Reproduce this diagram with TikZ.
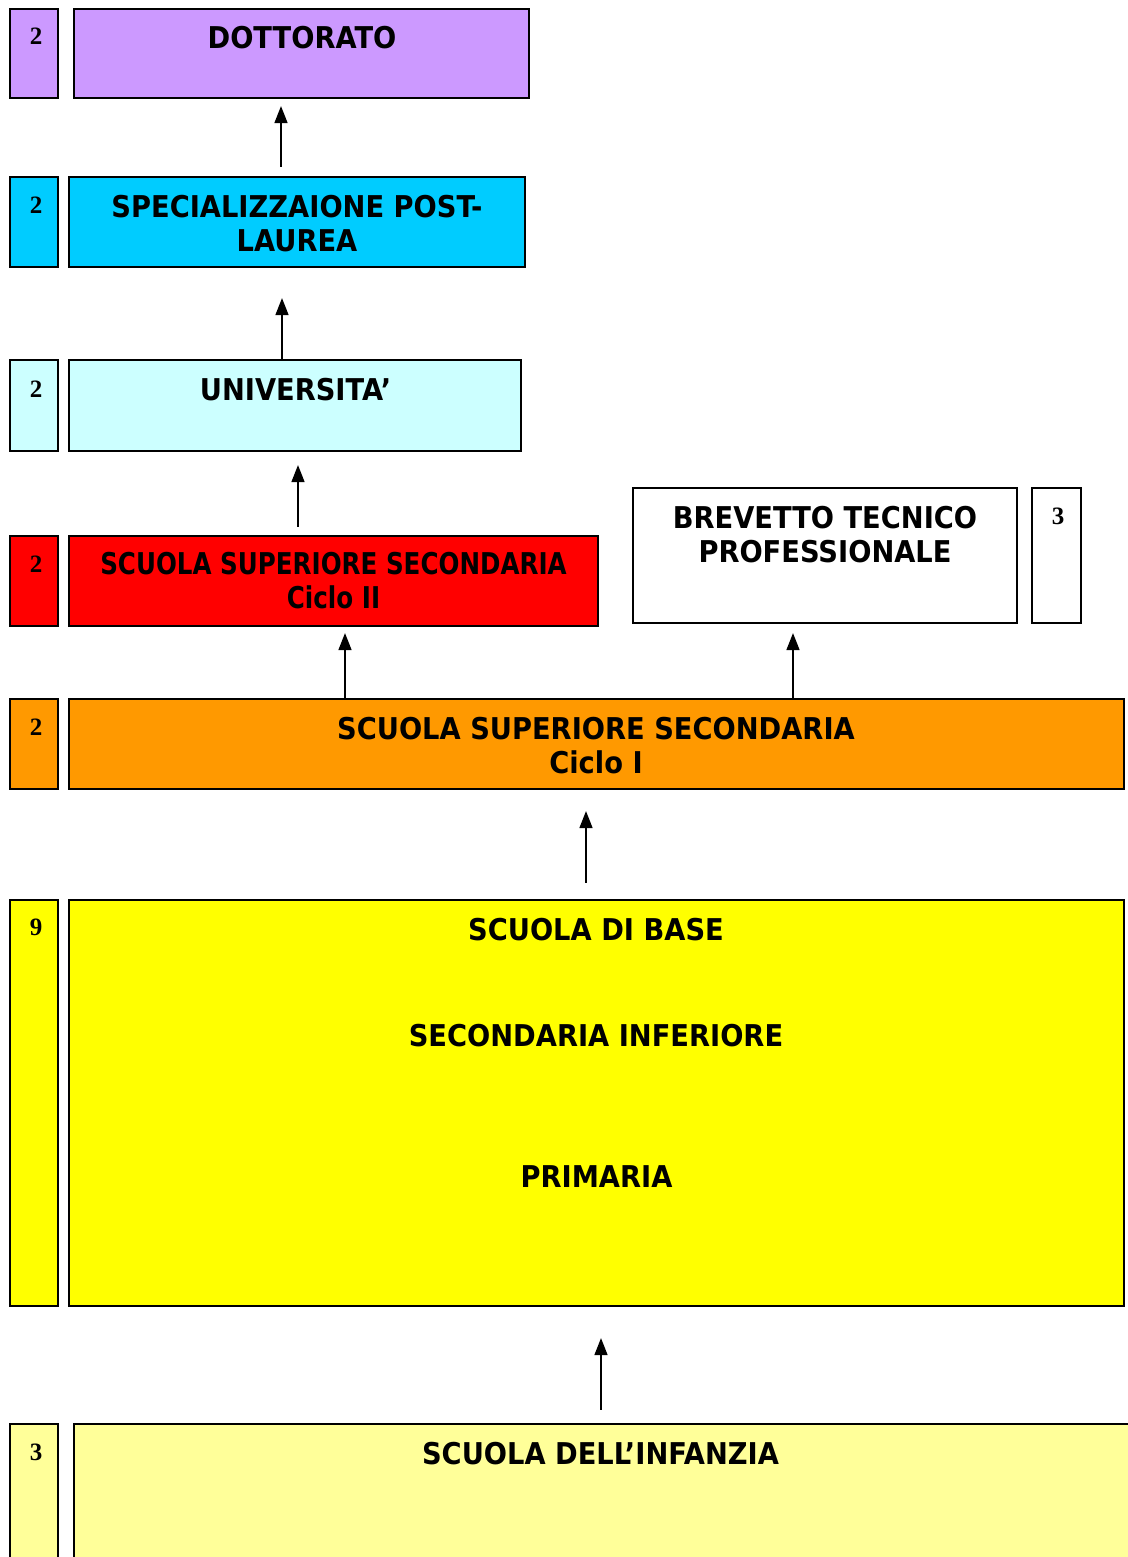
\documentclass[tikz,border=0pt]{standalone}
\usepackage{fontspec}
\setmainfont{Liberation Serif}
\newfontfamily\boxfont{DejaVu Sans}[FakeStretch=0.91]
\newfontfamily\boxfontn{DejaVu Sans}[FakeStretch=0.82]
\usetikzlibrary{arrows.meta}
\definecolor{cdott}{HTML}{CC99FF}
\definecolor{cspec}{HTML}{00CCFF}
\definecolor{cuniv}{HTML}{CCFFFF}
\definecolor{cred}{HTML}{FF0000}
\definecolor{corange}{HTML}{FF9900}
\definecolor{cyell}{HTML}{FFFF00}
\definecolor{cinf}{HTML}{FFFF99}
\begin{document}
\begin{tikzpicture}[x=1pt,y=-1pt,
  box/.style={draw=black, line width=2.2pt, inner sep=0pt},
  num/.style={inner sep=0pt, font=\fontsize{25}{25}\selectfont\bfseries},
  lbl/.style={inner sep=0pt, align=center, font=\boxfont\bfseries\fontsize{30}{34}\selectfont},
  lbln/.style={inner sep=0pt, align=center, font=\boxfontn\bfseries\fontsize{30}{34}\selectfont},
  arr/.style={-{Triangle[length=17pt,width=13pt]}, line width=1.6pt}]
\useasboundingbox (0,0) rectangle (1127,1557);
% boxes
\node[box, fill=cdott, minimum width=48pt, minimum height=89pt] (n1) at (34,53.5) {};
\node[box, fill=cdott, minimum width=455pt, minimum height=89pt] (dott) at (301.5,53.5) {};
\node[box, fill=cspec, minimum width=48pt, minimum height=90pt] (n2) at (34,222) {};
\node[box, fill=cspec, minimum width=456pt, minimum height=90pt] (spec) at (297,222) {};
\node[box, fill=cuniv, minimum width=48pt, minimum height=91pt] (n3) at (34,405.5) {};
\node[box, fill=cuniv, minimum width=452pt, minimum height=91pt] (univ) at (295,405.5) {};
\node[box, fill=cred, minimum width=48pt, minimum height=90pt] (n4) at (34,581) {};
\node[box, fill=cred, minimum width=529pt, minimum height=90pt] (ciclo2) at (333.5,581) {};
\node[box, fill=white, minimum width=384pt, minimum height=135pt] (brev) at (825,555.5) {};
\node[box, fill=white, minimum width=49pt, minimum height=135pt] (n5) at (1056.5,555.5) {};
\node[box, fill=corange, minimum width=48pt, minimum height=90pt] (n6) at (34,744) {};
\node[box, fill=corange, minimum width=1055pt, minimum height=90pt] (ciclo1) at (596.5,744) {};
\node[box, fill=cyell, minimum width=48pt, minimum height=406pt] (n7) at (34,1103) {};
\node[box, fill=cyell, minimum width=1055pt, minimum height=406pt] (base) at (596.5,1103) {};
\node[box, fill=cinf, minimum width=48pt, minimum height=176pt] (n8) at (34,1512) {};
\node[box, fill=cinf, minimum width=1086pt, minimum height=176pt] (inf) at (617,1512) {};
% numbers
\node[num] (t1) at (36,36) {2};
\node[num] (t2) at (36,205) {2};
\node[num] (t3) at (36,389) {2};
\node[num] (t4) at (36,564) {2};
\node[num] (t5) at (1058,516) {3};
\node[num] (t6) at (36,727) {2};
\node[num] (t7) at (36,927) {9};
\node[num] (t8) at (36,1452) {3};
% labels
\node[lbl] (l1) at (302,38) {DOTTORATO};
\node[lbl] (l2) at (297,224) {SPECIALIZZAIONE POST-\\LAUREA};
\node[lbl] (l3) at (295.5,390) {UNIVERSITA’};
\node[lbln] (l4) at (333.5,580.5) {SCUOLA SUPERIORE SECONDARIA\\Ciclo II};
\node[lbl] (l5) at (825,534.5) {BREVETTO TECNICO\\PROFESSIONALE};
\node[lbl] (l6) at (596,746) {SCUOLA SUPERIORE SECONDARIA\\Ciclo I};
\node[lbl] (l7) at (596,930) {SCUOLA DI BASE};
\node[lbl] (l8) at (596,1036) {SECONDARIA INFERIORE};
\node[lbl] (l9) at (596.5,1177) {PRIMARIA};
\node[lbl] (l10) at (600.5,1454) {SCUOLA DELL’INFANZIA};
% arrow columns
\coordinate (a1) at (281,0);
\coordinate (a2) at (282,0);
\coordinate (a3) at (298,0);
\coordinate (a4) at (345,0);
\coordinate (a5) at (793,0);
\coordinate (a6) at (586,0);
\coordinate (a7) at (601,0);
% arrows
\draw[arr, shorten <=9pt, shorten >=7pt] (spec.north -| a1) -- (dott.south -| a1);
\draw[arr, shorten >=30pt] (univ.north -| a2) -- (spec.south -| a2);
\draw[arr, shorten <=8pt, shorten >=13pt] (ciclo2.north -| a3) -- (univ.south -| a3);
\draw[arr, shorten >=6pt] (ciclo1.north -| a4) -- (ciclo2.south -| a4);
\draw[arr, shorten >=9pt] (ciclo1.north -| a5) -- (brev.south -| a5);
\draw[arr, shorten <=16pt, shorten >=21pt] (base.north -| a6) -- (ciclo1.south -| a6);
\draw[arr, shorten <=13pt, shorten >=31pt] (inf.north -| a7) -- (base.south -| a7);
\end{tikzpicture}
\end{document}
